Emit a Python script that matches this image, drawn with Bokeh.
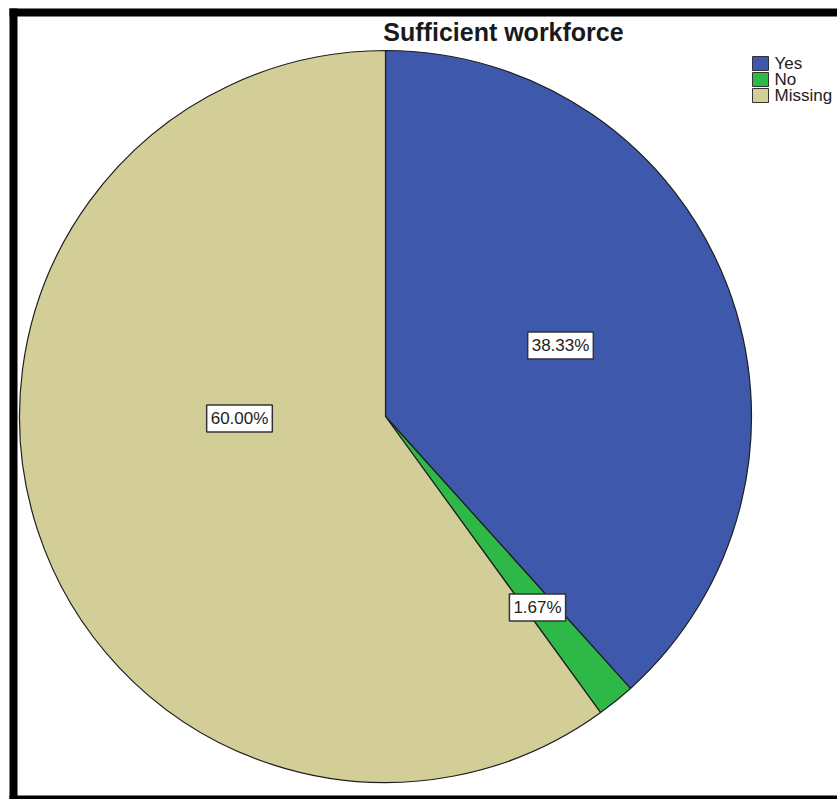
import math
from bokeh.plotting import figure
from bokeh.models import Range1d, Label, ColumnDataSource
from bokeh.core.properties import value
from bokeh.embed import file_html
from bokeh.resources import INLINE

# ---- data ----
title = "Sufficient workforce"
categories = ["Yes", "No", "Missing"]
percents = [38.33, 1.67, 60.00]
colors = ["#3E58AC", "#2EB848", "#D3CE97"]

# ---- layout (pixel space, y measured from top of the page) ----
W, H = 837, 799
CX, CY, R = 385, 416, 366
label_pos = [(560, 345), (537, 607), (239, 418)]
FONT = "Liberation Sans"

def Y(y):
    return H - y

p = figure(width=W, height=H, output_backend="svg", toolbar_location=None,
           x_range=Range1d(0, W), y_range=Range1d(0, H), min_border=0)
p.axis.visible = False
p.grid.visible = False
p.outline_line_color = None
p.background_fill_color = "white"
p.border_fill_color = "white"

# pie wedges, clockwise from 12 o'clock
total = sum(percents)
starts, ends = [], []
cum = 0.0
for v in percents:
    starts.append(math.pi / 2 - 2 * math.pi * cum / total)
    cum += v
    ends.append(math.pi / 2 - 2 * math.pi * cum / total)
src = ColumnDataSource(dict(start=starts, end=ends, color=colors, cat=categories))
p.wedge(x=CX, y=Y(CY), radius=R, start_angle="start", end_angle="end",
        direction="clock", fill_color="color", line_color="#1e1e1e",
        line_width=1.2, source=src)

# value labels
for v, (lx, ly) in zip(percents, label_pos):
    p.add_layout(Label(x=lx, y=Y(ly), text=f"{v:.2f}%", text_align="center",
                       text_baseline="middle", text_font=FONT,
                       text_font_size="17px", text_color="#222222",
                       background_fill_color="white",
                       border_line_color="#333333", border_line_width=1.5,
                       padding=4))

# title
p.text(x=[503], y=[Y(31)], text=[title], text_align="center",
       text_baseline="middle", text_font=value(FONT), text_font_style="bold",
       text_font_size="25px", text_color="#1a1a1a")

# legend
leg_y = [63, 79, 95]
p.rect(x=[760] * len(categories), y=[Y(v) for v in leg_y], width=16, height=14,
       fill_color=colors, line_color="#333333", line_width=1)
p.text(x=[774] * len(categories), y=[Y(v) for v in leg_y], text=categories,
       text_align="left", text_baseline="middle", text_font=value(FONT),
       text_font_size="17px", text_color="#222222")

# black frame (open on the right side)
p.quad(left=[9, 9, 9], right=[17, W, W], top=[Y(8), Y(8), Y(795)],
       bottom=[Y(H), Y(16), Y(H + 5)], fill_color="black", line_color=None)

open("out.html", "w").write(file_html(p, INLINE))
